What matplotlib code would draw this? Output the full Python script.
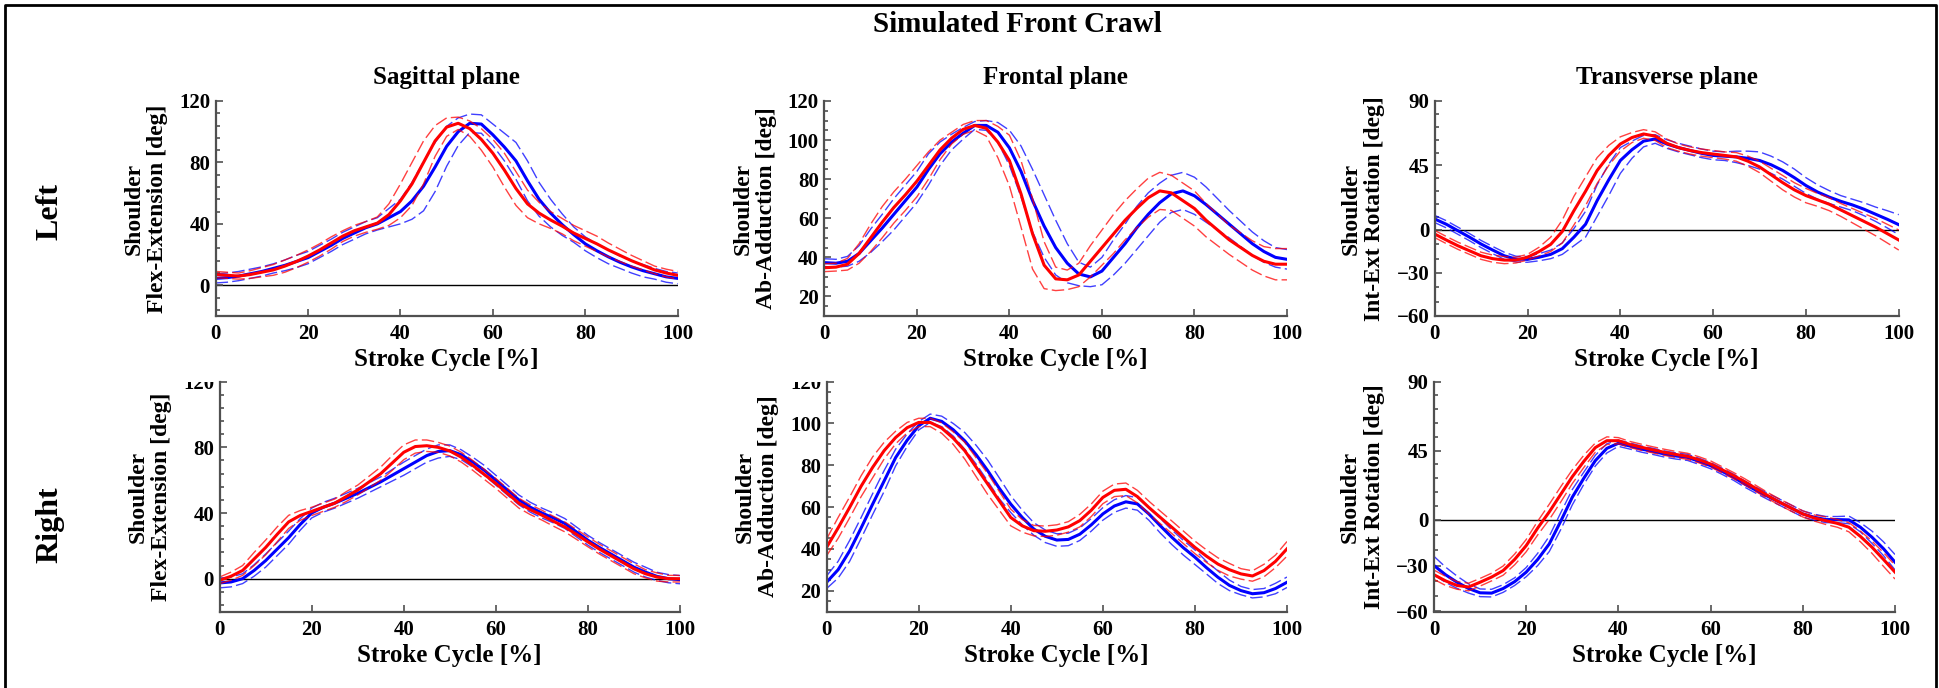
import numpy as np
import matplotlib.pyplot as plt
from matplotlib.lines import Line2D
from matplotlib.ticker import FixedLocator
from matplotlib.transforms import Bbox, TransformedBbox

plt.rcParams['font.family'] = 'Liberation Serif'
plt.rcParams['font.weight'] = 'bold'
plt.rcParams['axes.labelweight'] = 'bold'
plt.rcParams['axes.titleweight'] = 'bold'

# stroke cycle, normalised to 0-100 %
stroke = np.arange(0, 100.1, 2.5)

# ---- Left shoulder ----
sag_left_blue = [4.5, 5, 6, 7.5, 9, 11, 13, 15.5, 18, 22, 26, 30.5, 34, 37.5, 40, 44, 48, 55, 64.5, 77,
                 90.5, 100, 105.5, 105, 98, 90, 81, 68, 56, 47, 39.5, 33, 27, 22.5, 18.5, 15, 12, 9.5, 7.5, 5.5, 4.5]
sag_left_blue_sd = [3, 3, 3, 3, 3, 3, 3.5, 4, 4, 4, 4, 4, 4, 4, 4, 6, 8, 12, 16, 16,
                    13, 9, 6, 6, 7, 9, 12, 13, 11, 9, 7, 5, 4.5, 4.5, 4.5, 4, 4, 4, 3.5, 3.5, 3.5]
sag_left_red = [7, 6.5, 6, 7, 8.5, 10, 12.5, 15.5, 19, 23, 27.5, 32, 35.5, 38, 40.5, 46, 55, 66, 80, 94,
                103, 105.5, 102, 95, 86, 75, 63, 53, 47, 42.5, 38.5, 34, 30.5, 27, 23, 19.5, 16, 13, 10, 8, 6.5]
sag_left_red_sd = [2, 2, 2, 2.5, 3, 3.5, 4, 4, 4, 4, 4, 3.5, 3.5, 3.5, 4, 7, 11, 14, 14, 10,
                   6, 4, 5, 7, 9, 11, 11, 9, 7, 5.5, 5, 5, 5, 5, 4.5, 4, 3.5, 3, 2.5, 2.5, 2.5]

front_left_blue = [37.3, 37, 38, 42, 48.5, 55, 62, 69, 76, 85, 93, 99, 103.5, 107.5, 107.5, 104, 96, 84, 69, 56,
                   45, 37, 31.5, 30, 33, 40, 47, 55, 62, 68, 72.5, 74, 71.5, 67, 62, 57, 52, 47, 43, 40, 39]
front_left_blue_sd = [2, 2, 2.5, 4, 6, 7, 8, 8, 8, 8, 6, 4, 3, 2, 2.5, 5, 9, 13, 16, 16,
                      14, 10, 6, 5, 7, 9, 10, 11, 11, 10, 9.5, 9.5, 9.5, 9, 8, 7, 6.5, 6, 5.5, 5, 5]
front_left_red = [34.7, 35, 36.5, 42, 50, 58, 65.5, 72, 79, 87, 95, 101, 105.5, 107.5, 106, 99, 89.5, 72.5, 52, 36,
                  29, 28.5, 31, 38, 45, 52, 59, 65, 70.5, 74, 73, 69, 65, 59, 54, 49, 45, 41, 38, 36.5, 36.5]
front_left_red_sd = [2, 2, 3, 5, 7, 8, 8, 8, 8, 7, 5, 3, 2.5, 2.5, 4, 8, 13, 17, 18, 12,
                     6, 5, 6, 8, 9, 10, 10, 10, 10, 9.5, 9, 9, 9, 8.5, 8, 7.5, 7.5, 7.5, 7.5, 8, 8]

trans_left_blue = [7.7, 4, -0.5, -5, -9.8, -14, -18, -20.3, -20.5, -19, -17, -13, -5, 4, 20.5, 35, 48.5, 56, 62, 63.5,
                   60, 57.5, 55.5, 53.5, 52, 51.5, 51, 50, 48.5, 45.5, 41.5, 36.5, 31, 26.5, 23, 20, 17.5, 14.5, 11, 7.5, 3.7]
trans_left_blue_sd = [2.5, 2.5, 2.5, 2.5, 2.5, 2.5, 2.5, 2, 2, 2.5, 3, 4, 6, 9, 11, 11, 9, 6, 4, 3,
                      3, 3, 3, 3, 3, 3, 4, 5, 6, 6, 6, 6, 5.5, 5, 4.5, 4, 4, 4.5, 5, 6, 7]
trans_left_red = [-2.8, -7, -11, -14.5, -18, -20, -21, -21, -19, -15, -10, -1, 13.5, 27, 41.5, 52, 60, 64.5, 67, 65.5,
                  60.5, 57.5, 55.5, 54, 53, 52, 51, 48, 44, 38.5, 33, 28, 24, 21, 18, 14, 10, 6, 2, -2.5, -7]
trans_left_red_sd = [2.5, 2.5, 2.5, 2.5, 2.5, 2.5, 2.5, 2, 2, 3, 5, 8, 10, 10, 9, 7, 5, 3.5, 3, 3,
                     3, 2.5, 2.5, 2.5, 2.5, 2.5, 3, 3.5, 4, 4.5, 5, 5, 5, 4.5, 4.5, 4.5, 5, 5.5, 6, 6.5, 7]

# ---- Right shoulder ----
sag_right_blue = [-2.6, -2, 0, 5, 11, 18, 25, 33, 40, 43.5, 46, 49, 52, 55.5, 59, 63, 67, 71, 75, 77.5,
                  78, 75.5, 71, 66, 60, 54, 48, 43.5, 40, 37, 33.6, 28.5, 23.4, 19, 15, 11, 7, 4, 1.4, 0, -0.6]
sag_right_blue_sd = [3, 3, 3, 3.5, 4, 4, 4, 3.5, 3, 3, 3, 3, 3, 3, 3, 3.5, 4, 4, 4, 4,
                     3.5, 3, 3, 3, 3, 3, 3, 3, 3, 3, 3, 3, 3, 3, 3, 3, 3, 3, 2.5, 2.5, 2.5]
sag_right_red = [-1, 1.5, 5, 12, 19, 27, 34.6, 38.5, 41, 43.5, 46, 50, 54, 59, 64, 70.5, 77, 80.5, 81, 80,
                 77.8, 74, 69, 63.5, 58, 52, 46, 42, 38.7, 35, 31.5, 27, 22.4, 18, 14, 10, 6, 3, 1, 0, 0]
sag_right_red_sd = [2, 2.5, 3, 4, 4.5, 4.5, 4, 3, 2.5, 2.5, 2.5, 3, 3, 3.5, 4, 4.5, 4.5, 4, 3.5, 3,
                    3, 3, 3, 3, 3, 3, 3, 3, 3, 3, 3, 3, 3, 3, 3, 3, 3, 2.5, 2.5, 2, 2]

front_right_blue = [24, 30, 39, 50, 61.4, 72.5, 83.7, 92, 98.9, 102.5, 101, 97, 91.7, 85, 77.4, 69, 61.4, 55, 49.5, 46,
                    44.2, 44.5, 47, 51.5, 56.7, 60.5, 62.5, 61.5, 56.7, 51, 45.5, 40.5, 36, 31, 26.4, 22.5, 20, 18.5, 19, 21, 24]
front_right_blue_sd = [3, 4, 5, 5, 5, 5, 4, 3, 2, 2, 2.5, 3, 4, 4.5, 5, 5, 4, 3.5, 3, 3,
                       3, 3, 3, 3, 3, 3, 3, 3, 3, 3.5, 3.5, 3.5, 3.5, 3, 3, 2.5, 2, 2, 2, 2.5, 2.5]
front_right_red = [40.7, 50, 59.8, 70, 79, 87, 93.3, 98, 100.5, 100.5, 97.8, 93, 87, 79, 71, 63, 55, 51, 48.7, 48.4,
                   49, 50.5, 53.5, 58.5, 64.6, 68, 68.5, 65, 59.8, 55, 50.3, 45.5, 40.7, 36.5, 32.7, 30, 28, 27, 29.6, 34, 40]
front_right_red_sd = [4, 5, 5, 5, 5, 4, 3, 2.5, 2, 2, 2.5, 3, 4, 4.5, 5, 4.5, 4, 3, 2.5, 2.5,
                      2.5, 2.5, 3, 3, 3, 3, 3, 3, 3, 3, 3, 3, 3, 3, 3, 3, 2.5, 2.5, 3, 3, 3.5]

trans_right_blue = [-30, -36, -40.9, -45, -47.8, -48, -45, -40.5, -34.3, -26, -15.9, -1, 14.6, 27, 38.5, 46.5, 49.8, 48, 46, 44.5,
                    42.8, 41.5, 40.6, 38, 35.2, 31.5, 27.6, 23, 18.9, 15, 11.3, 7.5, 3.7, 1.5, 0, 0, -0.2, -5, -11.5, -19, -27.8]
trans_right_blue_sd = [6, 5, 4, 3, 2.5, 2.5, 2.5, 2.5, 3, 4, 5, 5.5, 5, 4, 3.5, 3, 2, 2, 2, 2,
                       2, 2, 2, 2, 2, 2, 2, 2, 2, 2, 2, 2, 2, 2, 2, 2, 2.5, 3, 4, 4.5, 5]
trans_right_red = [-36, -40, -43, -44, -40.9, -37.5, -33.3, -26, -17, -5.5, 5, 16.5, 28, 38, 47, 51.5, 51.5, 49, 47.2, 45.5,
                   43.9, 42.5, 41.3, 39, 36.3, 32.5, 28.7, 24.5, 20, 15.5, 11.3, 7.5, 3.7, 1, -0.7, -2.5, -5, -11, -18, -26, -34.3]
trans_right_red_sd = [3, 3, 2.5, 2.5, 2.5, 2.5, 3, 3.5, 4, 4.5, 5, 5, 4.5, 4, 3, 2.5, 2, 2, 2, 2,
                      2, 2, 2, 2, 2, 2, 2, 2, 2, 2, 2, 2, 2, 2, 2.5, 2.5, 3, 3.5, 4, 4.5, 4.5]

# axis ticks
xticks = [0, 20, 40, 60, 80, 100]
sag_yticks = [0, 40, 80, 120]
sag_minor = [-16, -8, 8, 16, 24, 32, 48, 56, 64, 72, 88, 96, 104, 112]
front_yticks = [20, 40, 60, 80, 100, 120]
front_minor = [15, 25, 30, 35, 45, 50, 55, 65, 70, 75, 85, 90, 95, 105, 110, 115]
trans_yticks = [-60, -30, 0, 45, 90]
trans_minor = [-50, -40, -20, -10, 9, 18, 27, 36, 54, 63, 72, 81]

W, H = 1940, 688
fig = plt.figure(figsize=(W / 100, H / 100), dpi=100)


def add_ax(left, top, right, bottom):
    # axes placed from pixel edges
    return fig.add_axes([left / W, 1 - bottom / H, (right - left) / W, (bottom - top) / H])


panels = [
    # (pixel box, blue mean, blue sd, red mean, red sd, ylim, yticks, minor, ylabel, title, zero line)
    ((215.6, 101, 677.7, 316), sag_left_blue, sag_left_blue_sd, sag_left_red, sag_left_red_sd,
     (-20, 120), sag_yticks, sag_minor, 'Shoulder\nFlex-Extension [deg]', 'Sagittal plane', True),
    ((824.4, 101, 1287, 316), front_left_blue, front_left_blue_sd, front_left_red, front_left_red_sd,
     (10, 120), front_yticks, front_minor, 'Shoulder\nAb-Adduction [deg]', 'Frontal plane', False),
    ((1434.7, 101, 1898.8, 316), trans_left_blue, trans_left_blue_sd, trans_left_red, trans_left_red_sd,
     (-60, 90), trans_yticks, trans_minor, 'Shoulder\nInt-Ext Rotation [deg]', 'Transverse plane', True),
    ((219.6, 381.7, 680, 611.5), sag_right_blue, sag_right_blue_sd, sag_right_red, sag_right_red_sd,
     (-20, 120), sag_yticks, sag_minor, 'Shoulder\nFlex-Extension [deg]', None, True),
    ((826.6, 381.7, 1287, 611.5), front_right_blue, front_right_blue_sd, front_right_red, front_right_red_sd,
     (10, 120), front_yticks, front_minor, 'Shoulder\nAb-Adduction [deg]', None, False),
    ((1434, 381.7, 1895, 611.5), trans_right_blue, trans_right_blue_sd, trans_right_red, trans_right_red_sd,
     (-60, 90), trans_yticks, trans_minor, 'Shoulder\nInt-Ext Rotation [deg]', None, True),
]

axes = []
for box, b, bsd, r, rsd, ylim, yt, ymin, ylab, title, zero in panels:
    ax = add_ax(*box)
    axes.append(ax)
    if zero:
        ax.axhline(0, color='black', lw=1.0, zorder=1)
    for mean, sd, col in ((b, bsd, '#0000ff'), (r, rsd, '#ff0000')):
        mean = np.array(mean)
        sd = np.array(sd)
        ax.plot(stroke, mean + sd, color=col, lw=1.0, alpha=0.75, dashes=(9, 3))
        ax.plot(stroke, mean - sd, color=col, lw=1.0, alpha=0.75, dashes=(9, 3))
        ax.plot(stroke, mean, color=col, lw=2.2)

    ax.set_xlim(0, 100)
    ax.set_ylim(*ylim)
    ax.set_xticks(xticks)
    ax.set_yticks(yt)
    ax.yaxis.set_minor_locator(FixedLocator(ymin))
    for s in ('top', 'right'):
        ax.spines[s].set_visible(False)
    for s in ('left', 'bottom'):
        ax.spines[s].set_color('#505050')
        ax.spines[s].set_linewidth(1.6)
    ax.tick_params(which='both', direction='in', color='#505050', width=1.2,
                   labelsize=15, pad=4)
    ax.tick_params(which='major', length=5)
    ax.tick_params(which='minor', length=3)
    ax.tick_params(axis='x', pad=6)
    ax.set_xlabel('Stroke Cycle [%]', fontsize=18, labelpad=3)
    ax.set_ylabel(ylab, fontsize=17, labelpad=8, linespacing=1.15)
    if title:
        ax.set_title(title, fontsize=18, pad=12)

# top tick labels of the lower left and middle panels are cut at the axes top
for ax in axes[3:5]:
    lab = ax.yaxis.get_major_ticks()[-1].label1
    lab.set_clip_box(TransformedBbox(Bbox([[-1, -1], [1, 1]]), ax.transAxes))
    lab.set_clip_on(True)

fig.text(1017 / W, 1 - 25 / H, 'Simulated Front Crawl', fontsize=21, ha='center', va='center')
fig.text(50 / W, 1 - 211 / H, 'Left', fontsize=23, rotation=90, ha='center', va='center')
fig.text(50 / W, 1 - 525 / H, 'Right', fontsize=23, rotation=90, ha='center', va='center')

# frame around the figure
fig.add_artist(Line2D([5 / W, 5 / W, 1936 / W, 1936 / W], [0, 1 - 5 / H, 1 - 5 / H, 0],
                      transform=fig.transFigure, color='black', lw=2))

fig.savefig('out.png', dpi=100)
